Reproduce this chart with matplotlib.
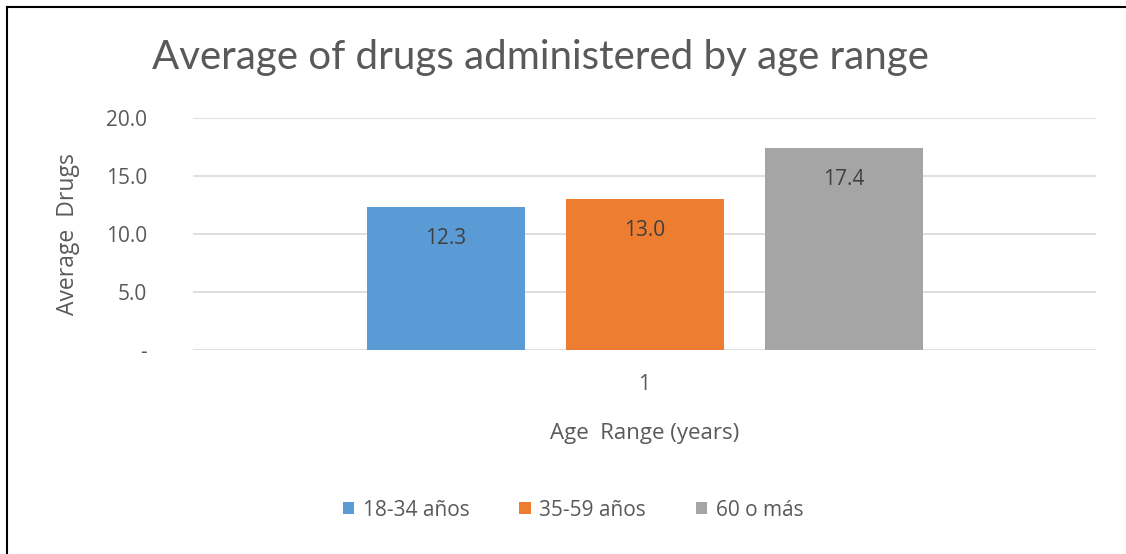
import numpy as np
import matplotlib.pyplot as plt
from matplotlib.lines import Line2D

plt.rcParams['font.family'] = ['Open Sans', 'DejaVu Sans']

groups = ['18-34 años', '35-59 años', '60 o más']
values = [12.3, 13.0, 17.4]
colors = ['#5b9bd5', '#ed7d31', '#a5a5a5']
yticks = [0, 5, 10, 15, 20]
ytick_labels = ['-', '5.0', '10.0', '15.0', '20.0']

W, H = 1126, 554
fig = plt.figure(figsize=(W / 100, H / 100), dpi=100)
ax = fig.add_axes([193 / W, 1 - 350 / H, (1096 - 193) / W, (350 - 118) / H])

bw = 158 / 903
step = 199 / 903
xs = (np.arange(len(values)) - 1) * step
bars = ax.bar(xs, values, width=bw, color=colors, label=groups, zorder=3)
for x, v in zip(xs, values):
    ax.annotate(f'{v:.1f}', (x, v), xytext=(0, -31), textcoords='offset pixels',
                ha='center', va='center', fontsize=15, color='#404040', zorder=4)

ax.set_xlim(-0.5, 0.5)
ax.set_ylim(0, 20)
ax.set_yticks(yticks)
ax.set_yticklabels(ytick_labels, color='#595959', fontsize=15)
ax.set_xticks([0])
ax.set_xticklabels(['1'], color='#595959', fontsize=15)
ax.tick_params(length=0, axis='y', pad=33)
ax.tick_params(length=0, axis='x', pad=17)
for s in ax.spines.values():
    s.set_visible(False)
ax.grid(axis='y', color='#d9d9d9', linewidth=1.2, zorder=0)
ax.set_axisbelow(True)

ax.set_ylabel('Average  Drugs', color='#595959', fontsize=16.5)
ax.set_xlabel('Age  Range (years)', color='#595959', fontsize=16)
ax.yaxis.set_label_coords((68 - 193) / 903, 0.5)
ax.xaxis.set_label_coords(0.5, -(434 - 350) / 232)
ax.xaxis.label.set_va('center')
ax.yaxis.label.set_va('center')

fig.text(540 / W, 1 - 58 / H, 'Average of drugs administered by age range',
         ha='center', va='center', fontsize=29, color='#595959', family=['Lato', 'DejaVu Sans'])

fig.legend(handles=bars, labels=groups, loc='center', bbox_to_anchor=(573 / W, 1 - 510 / H),
           ncol=3, frameon=False, fontsize=15, labelcolor='#595959',
           handlelength=0.55, handleheight=0.55, handletextpad=0.4, columnspacing=2.4)

fig.add_artist(Line2D([7.5 / W, 7.5 / W], [0, 1 - 6.5 / H], transform=fig.transFigure, color='black', lw=1.5))
fig.add_artist(Line2D([7.5 / W, 1], [1 - 6.5 / H, 1 - 6.5 / H], transform=fig.transFigure, color='black', lw=1.5))

fig.savefig('out.png', dpi=100)
